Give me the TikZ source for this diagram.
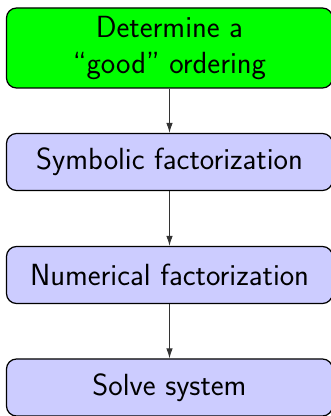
\documentclass[tikz,border=0pt]{standalone}
\usetikzlibrary{arrows.meta}
\begin{document}
\begin{tikzpicture}[x=1pt,y=1pt,
  boxbase/.style={draw=black, line width=1.2pt, rounded corners=10pt,
    minimum width=326pt, inner sep=0pt, align=center,
    font=\sffamily\fontsize{30.6}{36}\selectfont},
  greenbox/.style={boxbase, fill=green, minimum height=80pt},
  bluebox/.style={boxbase, fill=blue!20, minimum height=57pt},
  conn/.style={draw=black!80, line width=1pt, -{Latex[length=10pt,width=6.5pt]}}]
\useasboundingbox (0,0) rectangle (331,416);
\clip (0,0) rectangle (331,416);
\node[greenbox] (g) at (169.5,368) {Determine a\\``good'' ordering};
\node[bluebox] (s) at (169.5,254) {Symbolic factorization};
\node[bluebox] (n) at (169.5,141) {Numerical factorization};
\node[bluebox] (v) at (169.5,28.5) {Solve system};
\draw[conn] (g) -- (s);
\draw[conn] (s) -- (n);
\draw[conn] (n) -- (v);
\end{tikzpicture}
\end{document}
